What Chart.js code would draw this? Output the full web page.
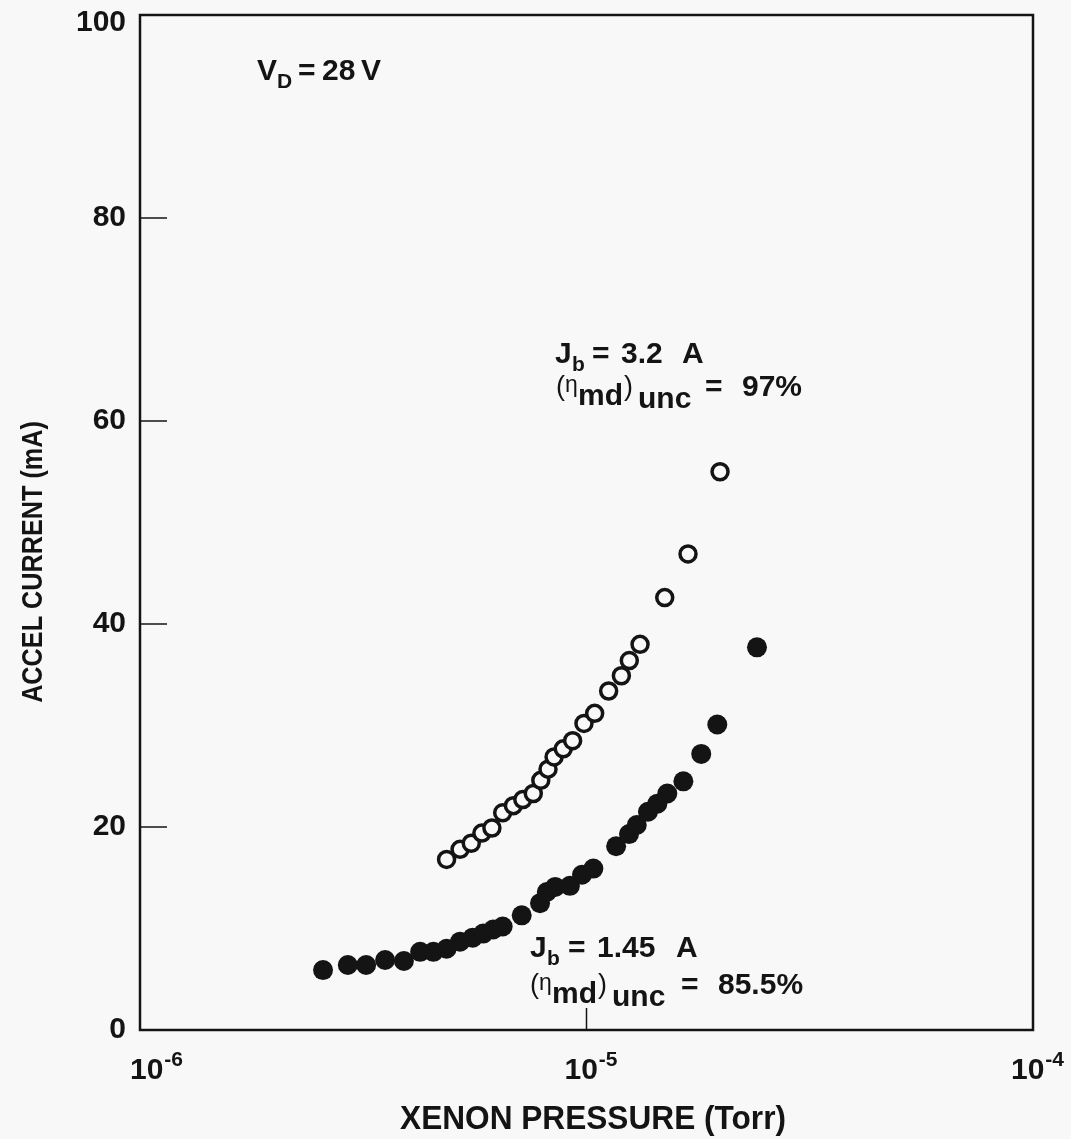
<!DOCTYPE html>
<html>
<head>
<meta charset="utf-8">
<title>Accel current vs xenon pressure</title>
<script src="https://cdn.jsdelivr.net/npm/chart.js@4.4.1/dist/chart.umd.min.js"></script>
<style>
  html, body { margin: 0; padding: 0; background: #f8f8f8; }
  #chart-wrap { width: 1071px; height: 1139px; }
</style>
</head>
<body>
<div id="chart-wrap"><canvas id="accelChart" width="1071" height="1139"></canvas></div>
<script>
// values: xenon pressure (Torr) vs accel current (mA)
const highBeamPressure = [4.86e-6, 5.21e-6, 5.52e-6, 5.83e-6, 6.14e-6, 6.49e-6, 6.86e-6, 7.20e-6,
  7.60e-6, 7.90e-6, 8.20e-6, 8.46e-6, 8.87e-6, 9.31e-6, 9.87e-6, 1.043e-5, 1.121e-5, 1.197e-5,
  1.247e-5, 1.318e-5, 1.497e-5, 1.688e-5, 1.991e-5];
const highBeamCurrent = [16.8, 17.8, 18.4, 19.4, 19.9, 21.4, 22.1, 22.7,
  23.3, 24.6, 25.7, 26.9, 27.7, 28.5, 30.2, 31.2, 33.4, 34.9,
  36.4, 38.0, 42.6, 46.9, 55.0];

const lowBeamPressure = [2.57e-6, 2.92e-6, 3.21e-6, 3.54e-6, 3.90e-6, 4.24e-6, 4.54e-6, 4.86e-6,
  5.21e-6, 5.56e-6, 5.87e-6, 6.18e-6, 6.49e-6, 7.16e-6, 7.87e-6, 8.15e-6, 8.51e-6, 9.18e-6,
  9.77e-6, 1.036e-5, 1.165e-5, 1.245e-5, 1.296e-5, 1.373e-5, 1.441e-5, 1.517e-5, 1.648e-5,
  1.807e-5, 1.963e-5, 2.409e-5];
const lowBeamCurrent = [5.9, 6.4, 6.4, 6.9, 6.8, 7.7, 7.7, 8.0,
  8.7, 9.1, 9.5, 9.9, 10.2, 11.3, 12.5, 13.6, 14.1, 14.2,
  15.3, 15.9, 18.1, 19.3, 20.2, 21.5, 22.3, 23.3, 24.5,
  27.2, 30.1, 37.7];

const yTickValues = [0, 20, 40, 60, 80, 100];
const xTickValues = [1e-6, 1e-5, 1e-4];
const xTickExponents = ["-6", "-5", "-4"];

const ink = "#141414";
const paper = "#f8f8f8";

function toPoints(xs, ys) {
  return xs.map(function (x, i) {
    return { x: x, y: ys[i] };
  });
}

// draws a run of text pieces, each with its own font and baseline
function drawPieces(ctx, pieces) {
  pieces.forEach(function (p) {
    ctx.font = p.font;
    ctx.fillText(p.text, p.x, p.y);
  });
}

const frameAndText = {
  id: "frameAndText",
  afterDatasetsDraw: function (chart) {
    const ctx = chart.ctx;
    const area = chart.chartArea;
    const xScale = chart.scales.x;
    const yScale = chart.scales.y;
    const family = "'Liberation Sans', Arial, sans-serif";
    const bold = "bold 30px " + family;
    const sub = "bold 21px " + family;
    const thin = "27px " + family;
    const eta = "23px " + family;

    ctx.save();
    ctx.strokeStyle = ink;
    ctx.fillStyle = ink;
    ctx.lineWidth = 2.5;
    ctx.strokeRect(area.left, area.top, area.right - area.left, area.bottom - area.top);

    // inward ticks
    ctx.lineWidth = 1.5;
    yTickValues.forEach(function (v) {
      if (v === 0 || v === 100) return;
      const py = yScale.getPixelForValue(v);
      ctx.beginPath();
      ctx.moveTo(area.left, py);
      ctx.lineTo(area.left + 27, py);
      ctx.stroke();
    });
    xTickValues.forEach(function (v, i) {
      if (i === 0 || i === xTickValues.length - 1) return;
      const px = xScale.getPixelForValue(v);
      ctx.beginPath();
      ctx.moveTo(px, area.bottom);
      ctx.lineTo(px, area.bottom - 22);
      ctx.stroke();
    });

    // y tick labels
    ctx.font = bold;
    ctx.textAlign = "right";
    ctx.textBaseline = "middle";
    yTickValues.forEach(function (v) {
      const py = Math.max(yScale.getPixelForValue(v), area.top + 8);
      ctx.fillText(String(v), area.left - 14, py);
    });

    // x tick labels, 10 with a raised exponent
    ctx.textAlign = "left";
    ctx.textBaseline = "alphabetic";
    xTickValues.forEach(function (v, i) {
      ctx.font = bold;
      const baseW = ctx.measureText("10").width;
      ctx.font = sub;
      const expW = ctx.measureText(xTickExponents[i]).width;
      const shift = i === 0 ? 16 : 4;
      const left = xScale.getPixelForValue(v) + shift - (baseW + expW) / 2;
      ctx.font = bold;
      ctx.fillText("10", left, area.bottom + 49);
      ctx.font = sub;
      ctx.fillText(xTickExponents[i], left + baseW + 1, area.bottom + 36);
    });

    // axis titles, slightly condensed like the original lettering
    ctx.font = "bold 34px " + family;
    ctx.textAlign = "center";
    ctx.save();
    ctx.translate(593, area.bottom + 99);
    ctx.scale(0.93, 1);
    ctx.fillText("XENON PRESSURE (Torr)", 0, 0);
    ctx.restore();

    ctx.font = "bold 29px " + family;
    ctx.save();
    ctx.translate(42, 562);
    ctx.rotate(-Math.PI / 2);
    ctx.scale(0.87, 1);
    ctx.fillText("ACCEL CURRENT (mA)", 0, 0);
    ctx.restore();

    // annotations
    ctx.textAlign = "left";
    drawPieces(ctx, [
      { text: "V", x: 257, y: 80, font: bold },
      { text: "D", x: 277, y: 88, font: sub },
      { text: "=", x: 298, y: 80, font: bold },
      { text: "28", x: 322, y: 80, font: bold },
      { text: "V", x: 361, y: 80, font: bold }
    ]);
    drawPieces(ctx, [
      { text: "J", x: 555, y: 363, font: bold },
      { text: "b", x: 572, y: 371, font: sub },
      { text: "=", x: 592, y: 363, font: bold },
      { text: "3.2", x: 621, y: 363, font: bold },
      { text: "A", x: 682, y: 363, font: bold },
      { text: "(", x: 556, y: 395, font: thin },
      { text: "\u03b7", x: 565, y: 392, font: eta },
      { text: "md", x: 578, y: 405, font: bold },
      { text: ")", x: 624, y: 395, font: thin },
      { text: "unc", x: 638, y: 408, font: bold },
      { text: "=", x: 705, y: 396, font: bold },
      { text: "97%", x: 742, y: 396, font: bold }
    ]);
    drawPieces(ctx, [
      { text: "J", x: 530, y: 957, font: bold },
      { text: "b", x: 547, y: 965, font: sub },
      { text: "=", x: 568, y: 957, font: bold },
      { text: "1.45", x: 597, y: 957, font: bold },
      { text: "A", x: 676, y: 957, font: bold },
      { text: "(", x: 530, y: 993, font: thin },
      { text: "\u03b7", x: 539, y: 990, font: eta },
      { text: "md", x: 552, y: 1003, font: bold },
      { text: ")", x: 598, y: 993, font: thin },
      { text: "unc", x: 612, y: 1006, font: bold },
      { text: "=", x: 681, y: 994, font: bold },
      { text: "85.5%", x: 718, y: 994, font: bold }
    ]);
    ctx.restore();
  }
};

const canvas = document.getElementById("accelChart");
const context = canvas.getContext("2d");

new Chart(context, {
  type: "scatter",
  data: {
    datasets: [
      {
        label: "Jb = 3.2 A",
        data: toPoints(highBeamPressure, highBeamCurrent),
        pointStyle: "circle",
        pointRadius: 8,
        borderWidth: 3.5,
        borderColor: ink,
        backgroundColor: paper
      },
      {
        label: "Jb = 1.45 A",
        data: toPoints(lowBeamPressure, lowBeamCurrent),
        pointStyle: "circle",
        pointRadius: 10,
        borderWidth: 0,
        borderColor: ink,
        backgroundColor: ink
      }
    ]
  },
  options: {
    responsive: false,
    animation: false,
    devicePixelRatio: 1,
    layout: {
      padding: { left: 140, right: 38, top: 15, bottom: 109 }
    },
    plugins: {
      legend: { display: false },
      tooltip: { enabled: false }
    },
    scales: {
      x: { type: "logarithmic", min: 1e-6, max: 1e-4, display: false },
      y: { type: "linear", min: 0, max: 100, display: false }
    }
  },
  plugins: [frameAndText]
});
</script>
</body>
</html>
